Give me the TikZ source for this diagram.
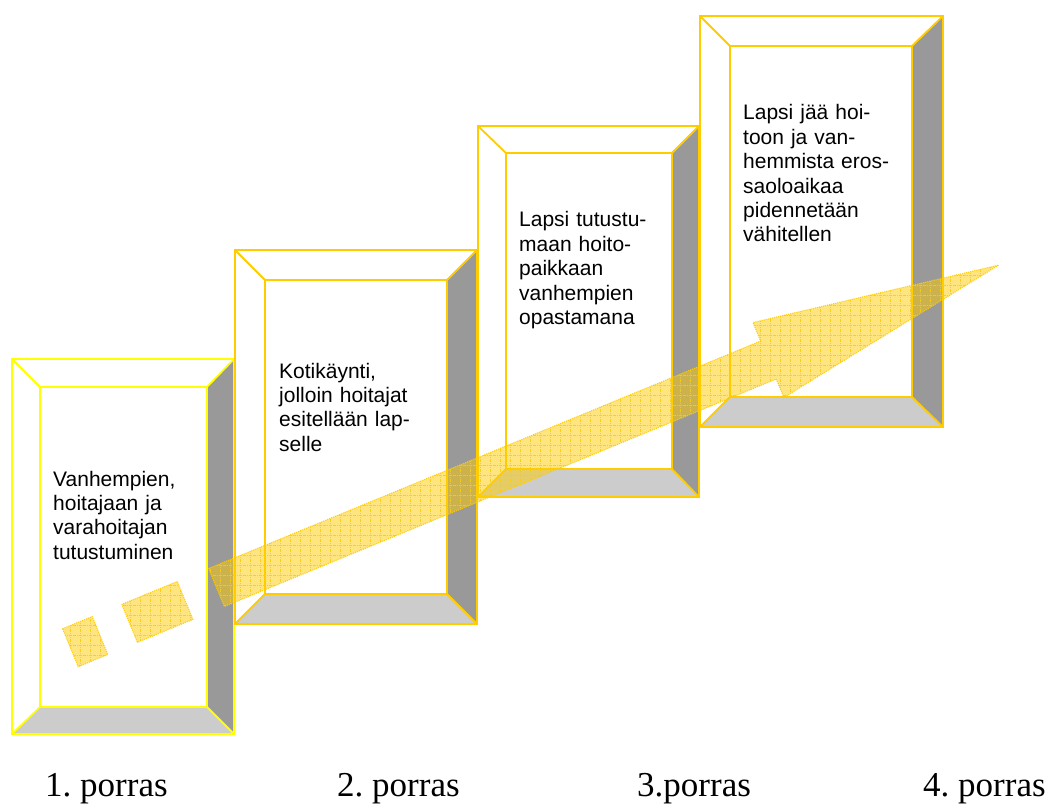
\documentclass[tikz,border=0pt]{standalone}
\usepackage{fontspec}
\setmainfont{Liberation Sans}
\newfontfamily\porrasfont{Liberation Serif}
\usepackage{tikz}
\usetikzlibrary{patterns.meta}
\frenchspacing
\definecolor{boxyellow}{RGB}{255,255,0}
\definecolor{boxgold}{RGB}{255,204,0}
\definecolor{sidegrey}{RGB}{153,153,153}
\definecolor{floorgrey}{RGB}{204,204,204}
\tikzset{
  bevelframe/.style={line width=1.8pt, line join=miter},
  steptext/.style={anchor=base west, inner sep=0pt, text width=185pt, align=left,
    font=\fontsize{21}{24.4}\selectfont},
  porrastext/.style={anchor=base west, inner sep=0pt, font=\porrasfont\fontsize{35}{40}\selectfont},
  arrowfill/.style={fill=boxgold, fill opacity=0.5, draw=boxgold, draw opacity=0.9,
    densely dotted, line width=1.1pt,
    postaction={pattern={Hatch[angle=0,distance=10pt,line width=0.6pt]}, pattern color=boxgold}}
}

\begin{document}
\begin{tikzpicture}[x=1pt, y=-1pt]
    \useasboundingbox (0,0) rectangle (1047,805);
    % the four steps
    \foreach \ox/\oy/\ex/\ey/\ix/\iy/\jx/\jy/\col in {
        12/359/234/734/40/387/207/707/boxyellow,
        235/250/477/624/265/280/447/594/boxgold,
        478/126/699/497/506/153/672/469/boxgold,
        700/16/943/427/730/46/912/397/boxgold}{
      \fill[white] (\ox,\oy) rectangle (\ex,\ey);
      \fill[sidegrey] (\ex,\oy) -- (\ex,\ey) -- (\jx,\jy) -- (\jx,\iy) -- cycle;
      \fill[floorgrey] (\ox,\ey) -- (\ex,\ey) -- (\jx,\jy) -- (\ix,\jy) -- cycle;
      \draw[bevelframe, draw=\col] (\ox,\oy) rectangle (\ex,\ey) (\ix,\iy) rectangle (\jx,\jy)
        (\ox,\oy) -- (\ix,\iy) (\ex,\oy) -- (\jx,\iy) (\ex,\ey) -- (\jx,\jy) (\ox,\ey) -- (\ix,\jy);
    }
    \node[steptext] (text1) at (53,486) {Vanhempien,\\ hoitajaan ja\\ varahoitajan\\ tutustuminen};
    \node[steptext] (text2) at (279,378) {Kotikäynti,\\ jolloin hoitajat\\ esitellään lap-\\ selle};
    \node[steptext] (text3) at (519,227) {Lapsi tutustu-\\ maan hoito-\\ paikkaan\\ vanhempien\\ opastamana};
    \node[steptext] (text4) at (743,120) {Lapsi jää hoi-\\ toon ja van-\\ hemmista eros-\\ saoloaikaa\\ pidennetään\\ vähitellen};
    % arrow
    \begin{scope}[shift={(216.5,587.5)}, rotate=22.4]
      \path[arrowfill] (0,-20.5) -- (597,-20.5) -- (597,-40.5) -- (846,0) -- (597,40.5) -- (597,20.5) -- (0,20.5) -- cycle;
      \path[arrowfill] (-94,-20.5) rectangle (-34,20.5);
      \path[arrowfill] (-158,-20.5) rectangle (-126,20.5);
    \end{scope}
    \node[porrastext] (porras1) at (45,796) {1. porras};
    \node[porrastext] (porras2) at (337,796) {2. porras};
    \node[porrastext] (porras3) at (637,796) {3.porras};
    \node[porrastext] (porras4) at (923,796) {4. porras};
\end{tikzpicture}
\end{document}
